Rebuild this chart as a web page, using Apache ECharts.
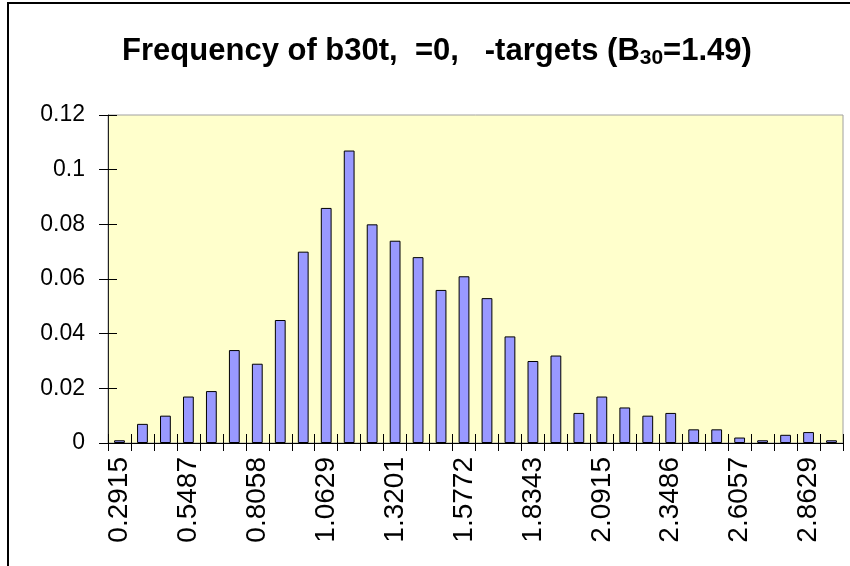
<!DOCTYPE html>
<html>
<head>
<meta charset="UTF-8">
<title>Frequency of b30t</title>
<script src="https://cdn.jsdelivr.net/npm/echarts@6/dist/echarts.min.js"></script>
<style>
  html, body { margin: 0; padding: 0; background: #fff; }
  #chart { width: 850px; height: 566px; }
</style>
</head>
<body>
<div id="chart"></div>
<script type="text/javascript">
// tick labels, one every 3 bins
var tickLabels = ['0.2915', '0.5487', '0.8058', '1.0629', '1.3201', '1.5772',
                  '1.8343', '2.0915', '2.3486', '2.6057', '2.8629'];
// relative frequency of each bin
var freqs = [0.001, 0.007, 0.010, 0.017, 0.019, 0.034, 0.029, 0.045,
             0.070, 0.086, 0.107, 0.080, 0.074, 0.068, 0.056, 0.061,
             0.053, 0.039, 0.030, 0.032, 0.011, 0.017, 0.013, 0.010,
             0.011, 0.005, 0.005, 0.002, 0.001, 0.003, 0.004, 0.001];
var yTicks = [0, 0.02, 0.04, 0.06, 0.08, 0.1, 0.12];

// category names: only every third bin gets a label
var cats = [];
for (var i = 0; i < freqs.length; i++) {
    cats.push(i % 3 === 0 ? tickLabels[i / 3] : '');
}

var font = '"Liberation Sans", Arial, Helvetica, sans-serif';
var myChart = echarts.init(document.getElementById('chart'));

var option = {
    animation: false,
    backgroundColor: '#fff',
    title: {
        text: '{a|Frequency of b30t,  =0,   -targets (B}{s|30}{a|=1.49)}',
        left: 432,
        textAlign: 'center',
        top: 28,
        textStyle: {
            rich: {
                a: { fontFamily: font, fontWeight: 'bold', fontSize: 31, color: '#000' },
                s: { fontFamily: font, fontWeight: 'bold', fontSize: 21, color: '#000', padding: [15, 0, 0, 0] }
            }
        }
    },
    graphic: [{
        type: 'rect',
        shape: { x: 8, y: 3, width: 900, height: 600 },
        style: { fill: 'none', stroke: '#000', lineWidth: 2 },
        silent: true
    }],
    grid: {
        left: 108, top: 115, right: 7, bottom: 123,
        show: true,
        backgroundColor: '#FFFFCC',
        borderColor: '#a0a0a0',
        borderWidth: 1
    },
    xAxis: [{
        type: 'category',
        data: cats,
        boundaryGap: true,
        axisLine: { lineStyle: { color: '#000', width: 1 } },
        axisTick: { show: true, interval: 0, length: 8, lineStyle: { color: '#000' } },
        axisLabel: {
            interval: 0, rotate: 90, margin: 14,
            fontFamily: font, fontSize: 28, color: '#000'
        }
    }, {
        type: 'category',
        data: cats,
        position: 'bottom',
        axisLine: { show: false },
        axisTick: { show: true, inside: true, interval: 0, length: 9, lineStyle: { color: '#000' } },
        axisLabel: { show: false }
    }],
    yAxis: [{
        type: 'value',
        min: 0, max: 0.12, interval: 0.02,
        splitLine: { show: false },
        axisLine: { show: true, lineStyle: { color: '#222', width: 1 } },
        axisTick: { show: true, length: 9, lineStyle: { color: '#000' } },
        axisLabel: {
            margin: 23, fontFamily: font, fontSize: 23, color: '#000',
            formatter: function (v) {
                for (var k = 0; k < yTicks.length; k++) {
                    if (Math.abs(v - yTicks[k]) < 1e-9) return String(yTicks[k]);
                }
                return '';
            }
        }
    }, {
        type: 'value',
        position: 'left',
        min: 0, max: 0.12, interval: 0.02,
        splitLine: { show: false },
        axisLine: { show: false },
        axisTick: { show: true, inside: true, length: 9, lineStyle: { color: '#000' } },
        axisLabel: { show: false }
    }],
    series: [{
        name: 'freq',
        type: 'bar',
        data: freqs,
        barWidth: '47%',
        itemStyle: { color: '#9999FF', borderColor: '#000', borderWidth: 1 }
    }]
};

myChart.setOption(option);
</script>
</body>
</html>
